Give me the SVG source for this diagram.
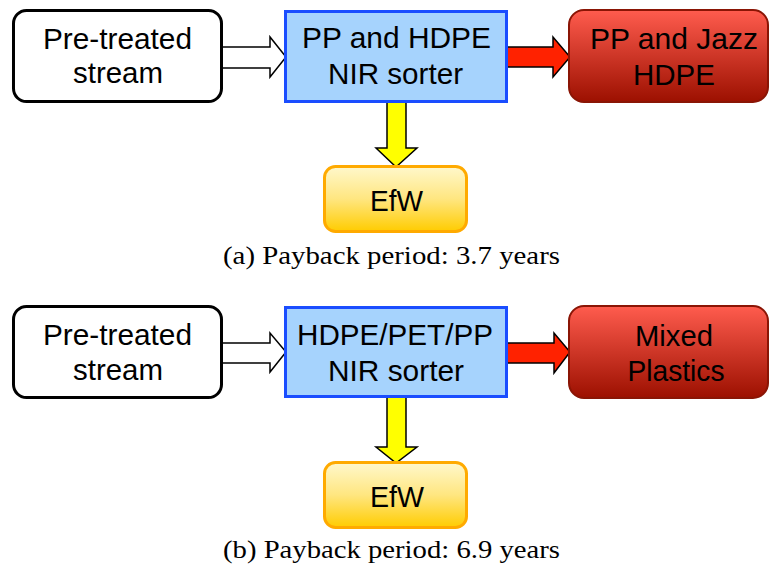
<svg xmlns="http://www.w3.org/2000/svg" width="769" height="570" viewBox="0 0 769 570">
<defs>
<linearGradient id="gRed" x1="0" y1="0" x2="0" y2="1">
<stop offset="0" stop-color="#ff5c4e"/>
<stop offset="1" stop-color="#9c1000"/>
</linearGradient>
<linearGradient id="gEfw" x1="0" y1="0" x2="0" y2="1">
<stop offset="0" stop-color="#fff8cc"/>
<stop offset="0.5" stop-color="#ffe680"/>
<stop offset="1" stop-color="#ffcc00"/>
</linearGradient>
</defs>
<style>
.src{fill:#ffffff;stroke:#000000;stroke-width:3}
.sorter{fill:#a6d3fd;stroke:#1a4dff;stroke-width:3}
.out{fill:url(#gRed);stroke:#8a1505;stroke-width:2}
.efw{fill:url(#gEfw);stroke:#ffaa00;stroke-width:3}
.lbl{font-family:"Liberation Sans",Arial,sans-serif;font-size:30px;fill:#000;text-anchor:middle}
.cap{font-family:"Liberation Serif","Times New Roman",serif;font-size:26px;fill:#000}
.aw{fill:#ffffff;stroke:#000;stroke-width:1.5;stroke-linejoin:miter}
.ar{fill:#ff2200;stroke:#000;stroke-width:1.5}
.ay{fill:#ffff00;stroke:#000;stroke-width:1.5}
</style>
<rect width="769" height="570" fill="#ffffff"/>

<g id="connectors">
<path class="aw" d="M222,47 H270 V37 L286,57 L270,77 V68 H222 Z"/>
<path class="ar" d="M507,47 H553 V37 L570,57 L553,77 V67 H507 Z"/>
<path class="ay" d="M387,102 V148 H376 L396,167 L417,148 H406 V102 Z"/>
<path class="aw" d="M222,343 H270 V333 L286,352 L270,372 V363 H222 Z"/>
<path class="ar" d="M507,343 H554 V333 L570,352 L554,373 V363 H507 Z"/>
<path class="ay" d="M387,397 V447 H376 L396,463 L417,447 H406 V397 Z"/>
</g>

<g id="a-pretreated">
<rect class="src" x="13.5" y="10.5" width="208" height="91" rx="13"/>
<text class="lbl" x="117.5" y="49" textLength="149" lengthAdjust="spacingAndGlyphs">Pre-treated</text>
<text class="lbl" x="118" y="83" textLength="90" lengthAdjust="spacingAndGlyphs">stream</text>
</g>
<g id="a-sorter">
<rect class="sorter" x="285.5" y="11.5" width="221" height="90"/>
<text class="lbl" x="396.5" y="48" textLength="189" lengthAdjust="spacingAndGlyphs">PP and HDPE</text>
<text class="lbl" x="395.5" y="84" textLength="135" lengthAdjust="spacingAndGlyphs">NIR sorter</text>
</g>
<g id="a-output">
<rect class="out" x="569" y="10" width="199" height="92" rx="15"/>
<text class="lbl" x="674" y="49" textLength="168" lengthAdjust="spacingAndGlyphs">PP and Jazz</text>
<text class="lbl" x="674" y="85" textLength="82" lengthAdjust="spacingAndGlyphs">HDPE</text>
</g>
<g id="a-efw">
<rect class="efw" x="324.5" y="166.5" width="142" height="65" rx="11"/>
<text class="lbl" x="396.5" y="211" textLength="53" lengthAdjust="spacingAndGlyphs">EfW</text>
</g>
<text class="cap" x="223" y="264" textLength="337" lengthAdjust="spacingAndGlyphs">(a) Payback period: 3.7 years</text>

<g id="b-pretreated">
<rect class="src" x="13.5" y="306.5" width="208" height="91" rx="13"/>
<text class="lbl" x="117.5" y="345" textLength="149" lengthAdjust="spacingAndGlyphs">Pre-treated</text>
<text class="lbl" x="118" y="380" textLength="90" lengthAdjust="spacingAndGlyphs">stream</text>
</g>
<g id="b-sorter">
<rect class="sorter" x="285.5" y="307.5" width="221" height="89"/>
<text class="lbl" x="395" y="345" textLength="196" lengthAdjust="spacingAndGlyphs">HDPE/PET/PP</text>
<text class="lbl" x="396" y="381" textLength="136" lengthAdjust="spacingAndGlyphs">NIR sorter</text>
</g>
<g id="b-output">
<rect class="out" x="569" y="306" width="199" height="92" rx="15"/>
<text class="lbl" x="674" y="346" textLength="78" lengthAdjust="spacingAndGlyphs">Mixed</text>
<text class="lbl" x="676" y="381" textLength="97" lengthAdjust="spacingAndGlyphs">Plastics</text>
</g>
<g id="b-efw">
<rect class="efw" x="324.5" y="462.5" width="142" height="65" rx="11"/>
<text class="lbl" x="397" y="507" textLength="54" lengthAdjust="spacingAndGlyphs">EfW</text>
</g>
<text class="cap" x="223" y="558" textLength="337" lengthAdjust="spacingAndGlyphs">(b) Payback period: 6.9 years</text>
</svg>
